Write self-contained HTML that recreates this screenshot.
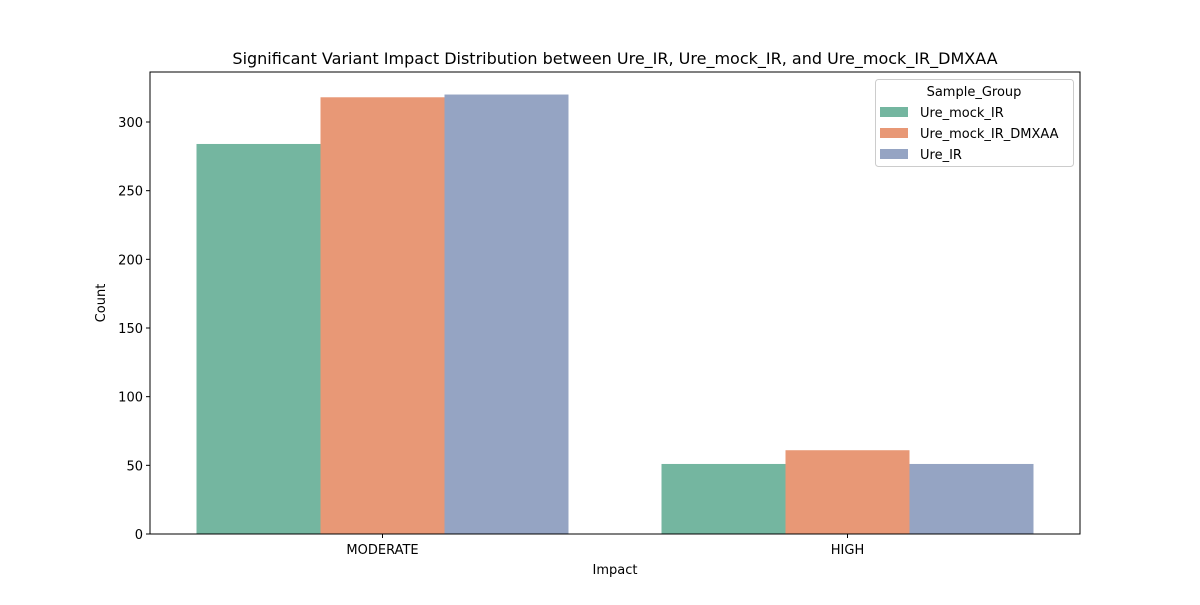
<!DOCTYPE html>
<html><head><meta charset="utf-8"><style>
body{margin:0;background:#fff;font-family:"Liberation Sans","DejaVu Sans",sans-serif}
</style></head><body>
<svg id="chart" width="1200" height="600" xmlns="http://www.w3.org/2000/svg" font-family="DejaVu Sans, Liberation Sans, sans-serif">
<text x="615" y="64" text-anchor="middle" font-size="16">Significant Variant Impact Distribution between Ure_IR, Ure_mock_IR, and Ure_mock_IR_DMXAA</text>
<g id="bars"></g>
<g id="axes"></g>
<rect x="150" y="72" width="930" height="462" fill="none" stroke="#000" stroke-width="1"/>
<text x="615" y="574" text-anchor="middle" font-size="13">Impact</text>
<text x="105" y="303" text-anchor="middle" font-size="13" transform="rotate(-90 105 303)">Count</text>
<g>
<rect x="875.5" y="79.5" width="198" height="87" rx="3" fill="#fff" fill-opacity="0.8" stroke="#ccc"/>
<text x="974" y="96" text-anchor="middle" font-size="13">Sample_Group</text>
<g id="legend-items"></g>
</g>
</svg>
<script>
const categories = ["MODERATE", "HIGH"];
const seriesNames = ["Ure_mock_IR", "Ure_mock_IR_DMXAA", "Ure_IR"];
const mockIR = [284, 51];
const mockDMXAA = [318, 61];
const ureIR = [320, 51];
const yTicks = [0, 50, 100, 150, 200, 250, 300];
const colors = ["#74b6a0", "#e89876", "#95a4c3"];
const series = [mockIR, mockDMXAA, ureIR];
const NS = "http://www.w3.org/2000/svg";
const x0 = 150, x1 = 1080, yBottom = 534, pxPerUnit = (534 - 122) / 300;
const y = v => yBottom - v * pxPerUnit;
const groupW = (x1 - x0) / categories.length;
const cx = i => x0 + groupW * (i + 0.5);
const barW = groupW * 0.8 / seriesNames.length;
function mk(tag, attrs, parent) { const e = document.createElementNS(NS, tag); for (const k in attrs) e.setAttribute(k, attrs[k]); parent.appendChild(e); return e; }
const bars = document.getElementById("bars"), axes = document.getElementById("axes"), leg = document.getElementById("legend-items");
categories.forEach((c, i) => {
  series.forEach((s, j) => {
    const left = cx(i) - 1.5 * barW + j * barW;
    const r = mk("rect", {x: left, y: y(s[i]), width: barW, height: yBottom - y(s[i]), fill: colors[j]}, bars);
    
    
  });
  mk("line", {x1: cx(i), x2: cx(i), y1: yBottom, y2: yBottom + 4, stroke: "#000"}, axes);
  const t = mk("text", {x: cx(i), y: yBottom + 20, "text-anchor": "middle", "font-size": 13}, axes);
  t.textContent = c;
  
  
});
yTicks.forEach(v => {
  mk("line", {x1: x0 - 4, x2: x0, y1: y(v), y2: y(v), stroke: "#000"}, axes);
  const t = mk("text", {x: x0 - 7, y: y(v) + 5, "text-anchor": "end", "font-size": 13}, axes);
  t.textContent = v;
  
  
});
seriesNames.forEach((n, j) => {
  const yy = 112 + j * 21;
  const r = mk("rect", {x: 880, y: yy - 5, width: 28, height: 10, fill: colors[j]}, leg);
  
  
  const t = mk("text", {x: 920, y: yy + 5, "font-size": 13}, leg);
  t.textContent = n;
  
  
});
</script>
</body></html>
